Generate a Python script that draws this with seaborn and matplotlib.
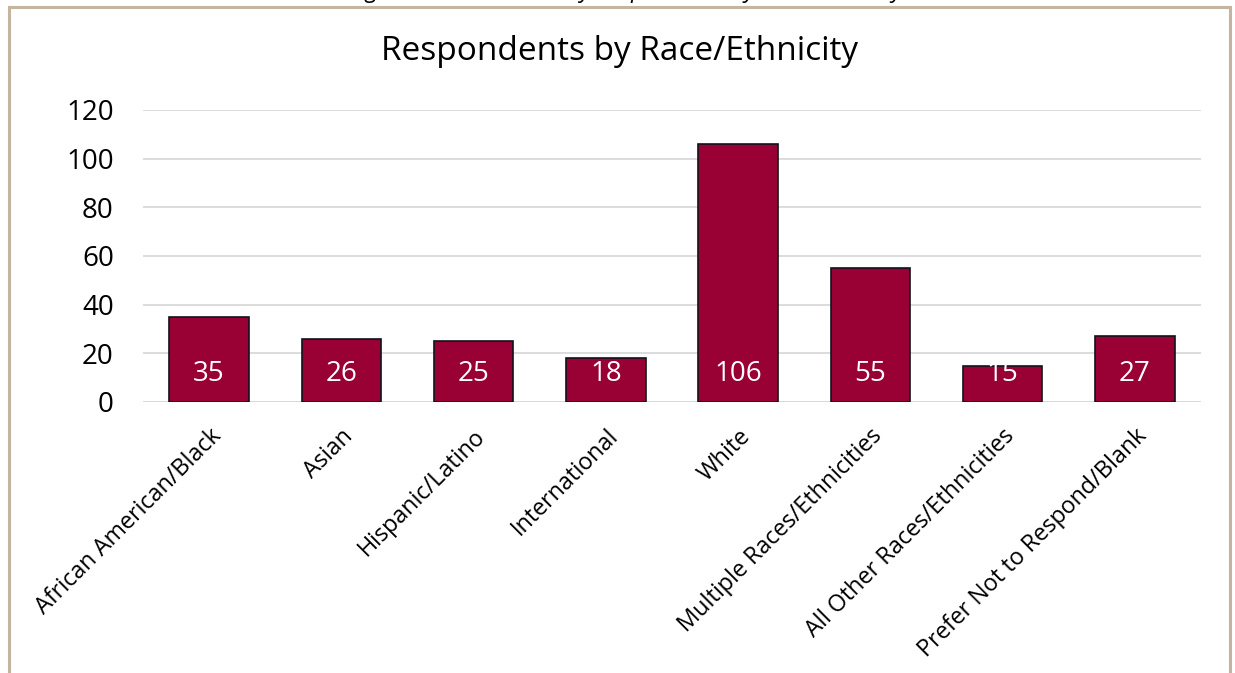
import matplotlib
matplotlib.use("Agg")
import matplotlib.pyplot as plt
import seaborn as sns
import pandas as pd
from matplotlib.patches import Rectangle

categories = [
    "African American/Black",
    "Asian",
    "Hispanic/Latino",
    "International",
    "White",
    "Multiple Races/Ethnicities",
    "All Other Races/Ethnicities",
    "Prefer Not to Respond/Blank",
]
counts = [35, 26, 25, 18, 106, 55, 15, 27]
y_ticks = [0, 20, 40, 60, 80, 100, 120]

df = pd.DataFrame({"category": categories, "count": counts})

sns.set_theme(style="white")
plt.rcParams["font.family"] = ["Open Sans", "DejaVu Sans"]

fig = plt.figure(figsize=(12.35, 6.73), dpi=100)
ax = fig.add_axes([143 / 1235, 1 - 402 / 673, (1201 - 143) / 1235, (402 - 110) / 673])

bar_color = "#990033"
sns.barplot(data=df, x="category", y="count", color=bar_color, width=0.6,
            edgecolor="#10131c", linewidth=1.2, saturation=1, ax=ax, zorder=3)

ax.set_ylim(0, 120)
ax.set_xlim(-0.5, len(categories) - 0.5)
ax.set_yticks(y_ticks)
ax.yaxis.grid(True, color="#d9d9d9", linewidth=1.3, zorder=0)
ax.set_axisbelow(True)
for s in ax.spines.values():
    s.set_visible(False)
ax.axhline(0, color="#d9d9d9", linewidth=1.3, zorder=1)
ax.set_xlabel("")
ax.set_ylabel("")
ax.tick_params(axis="y", labelsize=20, colors="black", length=0, pad=21)
ax.tick_params(axis="x", labelsize=16.8, colors="black", length=0, pad=16)
plt.setp(ax.get_xticklabels(), rotation=45, ha="right", rotation_mode="anchor")

for i, v in enumerate(counts):
    ax.text(i, 11.6, str(v), ha="center", va="center", color="white",
            fontsize=20, zorder=5)

fig.text(620 / 1235, 1 - 52 / 673, "Respondents by Race/Ethnicity", ha="center",
         va="center", fontsize=24, color="black")

# caption above the chart frame, partly outside the canvas
fig.text(626 / 1235, 1.013, "Figure 4. Student Survey Respondents by Race/Ethnicity",
         ha="center", va="center", fontsize=16.5, style="italic", color="black")

# chart frame
frame = Rectangle((9 / 1235, -0.05), (1230 - 9) / 1235, 1 - 7 / 673 + 0.05,
                  transform=fig.transFigure, fill=False, edgecolor="#c4b5a0",
                  linewidth=2.2, zorder=10)
fig.patches.append(frame)

fig.savefig("out.png", dpi=100, facecolor="white")
